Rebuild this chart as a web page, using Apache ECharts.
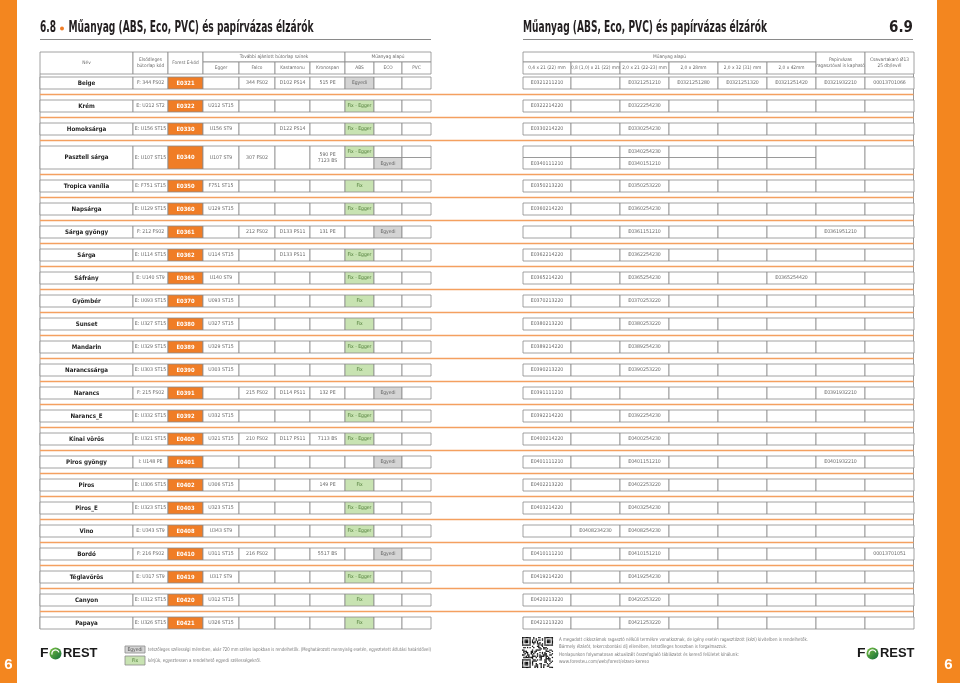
<!DOCTYPE html>
<html><head><meta charset="utf-8">
<script src="https://cdn.jsdelivr.net/npm/echarts@6/dist/echarts.min.js"></script>
<style>html,body{margin:0;padding:0;background:#fff}#c{width:960px;height:683px}</style>
</head><body><div id="c"></div>
<script>
// ---------------- DATA ----------------
const rowNames = ['Beige','Krém','Homoksárga','Pasztell sárga','Tropica vanília','Napsárga','Sárga gyöngy','Sárga','Sáfrány','Gyömbér','Sunset','Mandarin','Narancssárga','Narancs','Narancs_E','Kínai vörös','Piros gyöngy','Piros','Piros_E','Vino','Bordó','Téglavörös','Canyon','Papaya'];
const primaryCodes = ['F: 344 FS02','E: U212 ST2','E: U156 ST15','E: U107 ST15','E: F751 ST15','E: U129 ST15','F: 212 FS02','E: U114 ST15','E: U140 ST9','E: U093 ST15','E: U327 ST15','E: U329 ST15','E: U303 ST15','F: 215 FS02','E: U332 ST15','E: U321 ST15','I: U148 PE','E: U306 ST15','E: U323 ST15','E: U343 ST9','F: 216 FS02','E: U317 ST9','E: U312 ST15','E: U326 ST15'];
const forestCodes = ['E0321','E0322','E0330','E0340','E0350','E0360','E0361','E0362','E0365','E0370','E0380','E0389','E0390','E0391','E0392','E0400','E0401','E0402','E0403','E0408','E0410','E0419','E0420','E0421'];
const eggerColors = ['','U212 ST15','U156 ST9','U107 ST9','F751 ST15','U129 ST15','','U114 ST15','U140 ST9','U093 ST15','U327 ST15','U329 ST15','U303 ST15','','U332 ST15','U321 ST15','','U306 ST15','U323 ST15','U343 ST9','U311 ST15','U317 ST9','U312 ST15','U326 ST15'];
const falcoColors = ['344 FS02','','','307 FS02','','','212 FS02','','','','','','','215 FS02','','210 FS02','','','','','216 FS02','','',''];
const kastamonuColors = ['D102 PS14','','D122 PS14','','','','D133 PS11','D133 PS11','','','','','','D114 PS11','','D117 PS11','','','','','','','',''];
const kronospanColors = ['515 PE','','','590 PE\n7123 BS','','','131 PE','','','','','','','132 PE','','7113 BS','','149 PE','','','5517 BS','','',''];
const absAvailability = ['Egyedi','Fix - Egger','Fix - Egger',['Fix - Egger',''],'Fix','Fix - Egger','','Fix - Egger','Fix - Egger','Fix','Fix','Fix - Egger','Fix','','Fix - Egger','Fix - Egger','','Fix','Fix - Egger','Fix - Egger','','Fix - Egger','Fix','Fix'];
const ecoAvailability = ['','','',['','Egyedi'],'','','Egyedi','','','','','','','Egyedi','','','Egyedi','','','','Egyedi','','',''];
const pvcAvailability = ['','','',['',''],'','','','','','','','','','','','','','','','','','','',''];
const size04x21 = ['E0321211210','E0322214220','E0330214220',['','E0340111210'],'E0350213220','E0360214220','','E0362214220','E0365214220','E0370213220','E0380213220','E0389214220','E0390213220','E0391111210','E0392214220','E0400214220','E0401111210','E0402213220','E0403214220','','E0410111210','E0419214220','E0420213220','E0421213220'];
const size08x21 = ['','','',['',''],'','','','','','','','','','','','','','','','E0408234230','','','',''];
const size20x21 = ['E0321251210','E0322254230','E0330254230',['E0340254230','E0340151210'],'E0350253220','E0360254230','E0361151210','E0362254230','E0365254230','E0370253220','E0380253220','E0389254230','E0390253220','','E0392254230','E0400254230','E0401151210','E0402253220','E0403254230','E0408254230','E0410151210','E0419254230','E0420253220','E0421253220'];
const size20x28 = ['E0321251280','','',['',''],'','','','','','','','','','','','','','','','','','','',''];
const size20x32 = ['E0321251320','','',['',''],'','','','','','','','','','','','','','','','','','','',''];
const size20x42 = ['E0321251420','','',['',''],'','','','','E0365254420','','','','','','','','','','','','','','',''];
const paperBased = ['E0321932210','','','','','','E0361951210','','','','','','','E0391932210','','','E0401932210','','','','','','',''];
const screwCaps = ['00013701066','','','','','','','','','','','','','','','','','','','','00013701051','','',''];

const leftHeaders = ['Név','Elsődleges\nbútorlap kód','Forest E-kód'];
const boardGroupHeader = 'További ajánlott bútorlap színek';
const boardSubHeaders = ['Egger','Falco','Kastamonu','Kronospan'];
const plasticGroupHeader = 'Műanyag alapú';
const plasticSubHeaders = ['ABS','ECO','PVC'];
const sizeSubHeaders = ['0,4 x 21 (22) mm','0,8 (1,0) x 21 (22) mm','2,0 x 21 (22-23) mm','2,0 x 28mm','2,0 x 32 (31) mm','2,0 x 42mm'];
const rightHeaders = ['Papírvázas\nragasztóval is kapható','Csavartakaró Ø13\n25 db/levél'];

// ---------------- LAYOUT ----------------
const FONT = "'Liberation Sans Narrow','DejaVu Sans Condensed','Arial Narrow',sans-serif";
const ORANGE = '#f07d26', STRIP = '#f3861f', GREEN = '#c8e3b2', GREY = '#d4d4d4', BORDER = '#8c8c8c';
const leftEdges = [40,133,168,203,239,275,310,345,374,402,431];
const rightEdges = [523,571,620,669,718,767,816,865,914];
const PX = 1/23;
function rowTop(i){ return i + (i > 3 ? 11*PX : 0); }
function rowHeight(i){ return i === 3 ? 23*PX : 12*PX; }

const leftCols = [
  {arr: rowNames, kind:'name'}, {arr: primaryCodes, kind:'plain'}, {arr: forestCodes, kind:'forest'},
  {arr: eggerColors, kind:'plain'}, {arr: falcoColors, kind:'plain'}, {arr: kastamonuColors, kind:'plain'}, {arr: kronospanColors, kind:'plain'},
  {arr: absAvailability, kind:'type'}, {arr: ecoAvailability, kind:'type'}, {arr: pvcAvailability, kind:'type'}
];
const rightCols = [size04x21, size08x21, size20x21, size20x28, size20x32, size20x42, paperBased, screwCaps].map(a => ({arr:a, kind:'plain'}));

function mkRect(api, x0, x1, y0, y1, fill) {
  const a = api.coord([x0, y0]), b = api.coord([x1, y1]);
  return {type:'rect', shape:{x:a[0], y:a[1], width:b[0]-a[0], height:b[1]-a[1]}, style:{fill:fill, stroke:BORDER, lineWidth:0.8}};
}
function mkText(api, x0, x1, y0, y1, str, opt) {
  const a = api.coord([(x0+x1)/2, (y0+y1)/2]);
  return {type:'text', x:a[0], y:a[1], style:Object.assign({text:str, align:'center', verticalAlign:'middle', fill:'#6a6a6a', fontSize:5.2, fontFamily:FONT, lineHeight:6.5}, opt || {})};
}
function cellStyle(kind, v) {
  if (kind === 'name') return {fill:'#fff', txt:{fill:'#1e1e1e', fontWeight:'bold', fontSize:6.2}};
  if (kind === 'forest') return {fill:ORANGE, txt:{fill:'#fff', fontWeight:'bold', fontSize:5.8}};
  if (kind === 'type') {
    if (v === 'Egyedi') return {fill:GREY, txt:{fill:'#666', fontSize:5}};
    if (v) return {fill:GREEN, txt:{fill:'#4f7d38', fontSize:5}};
  }
  return {fill:'#fff', txt:{}};
}
function addCols(children, api, cols, edges, y0, y1) {
  cols.forEach((c, k) => {
    const x0 = edges[k], x1 = edges[k+1];
    const v = c.arr[children.idx];
    if (Array.isArray(v)) {
      const ym = (y0 + y1) / 2;
      [[v[0], y0, ym], [v[1], ym, y1]].forEach(([s, a, b]) => {
        const st = cellStyle(c.kind, s);
        children.push(mkRect(api, x0, x1, a, b, st.fill));
        if (s) children.push(mkText(api, x0, x1, a, b, s, st.txt));
      });
    } else {
      const st = cellStyle(c.kind, v);
      children.push(mkRect(api, x0, x1, y0, y1, st.fill));
      if (v) children.push(mkText(api, x0, x1, y0, y1, v, st.txt));
    }
  });
}
function renderRow(params, api) {
  const i = params.dataIndex;
  const y0 = rowTop(i), y1 = y0 + rowHeight(i);
  const children = []; children.idx = i;
  if (i > 0) {
    const a = api.coord([40, y0 - 5.5*PX]), b = api.coord([913.5, y0 - 5.5*PX]);
    children.push({type:'line', shape:{x1:a[0], y1:a[1], x2:b[0], y2:b[1]}, style:{stroke:'#f4a060', lineWidth:1.6}});
  }
  addCols(children, api, leftCols, leftEdges, y0, y1);
  addCols(children, api, rightCols, rightEdges, y0, y1);
  return {type:'group', children: children.slice()};
}
function renderHeader(params, api) {
  const h0 = (52-77)*PX, h1 = (62-77)*PX, h2 = (74-77)*PX;
  const ch = [];
  const hs = {fontSize:4.8, fill:'#6a6a6a'};
  leftHeaders.forEach((t, k) => { ch.push(mkRect(api, leftEdges[k], leftEdges[k+1], h0, h2, '#fff')); ch.push(mkText(api, leftEdges[k], leftEdges[k+1], h0, h2, t, hs)); });
  ch.push(mkRect(api, leftEdges[3], leftEdges[7], h0, h1, '#fff')); ch.push(mkText(api, leftEdges[3], leftEdges[7], h0, h1, boardGroupHeader, hs));
  boardSubHeaders.forEach((t, k) => { ch.push(mkRect(api, leftEdges[3+k], leftEdges[4+k], h1, h2, '#fff')); ch.push(mkText(api, leftEdges[3+k], leftEdges[4+k], h1, h2, t, hs)); });
  ch.push(mkRect(api, leftEdges[7], leftEdges[10], h0, h1, '#fff')); ch.push(mkText(api, leftEdges[7], leftEdges[10], h0, h1, plasticGroupHeader, hs));
  plasticSubHeaders.forEach((t, k) => { ch.push(mkRect(api, leftEdges[7+k], leftEdges[8+k], h1, h2, '#fff')); ch.push(mkText(api, leftEdges[7+k], leftEdges[8+k], h1, h2, t, hs)); });
  ch.push(mkRect(api, rightEdges[0], rightEdges[6], h0, h1, '#fff')); ch.push(mkText(api, rightEdges[0], rightEdges[6], h0, h1, plasticGroupHeader, hs));
  sizeSubHeaders.forEach((t, k) => { ch.push(mkRect(api, rightEdges[k], rightEdges[k+1], h1, h2, '#fff')); ch.push(mkText(api, rightEdges[k], rightEdges[k+1], h1, h2, t, hs)); });
  rightHeaders.forEach((t, k) => { ch.push(mkRect(api, rightEdges[6+k], rightEdges[7+k], h0, h2, '#fff')); ch.push(mkText(api, rightEdges[6+k], rightEdges[7+k], h0, h2, t, hs)); });
  const last = rowNames.length - 1, yb = rowTop(last) + rowHeight(last);
  [40, 913.5].forEach(x => { const a = api.coord([x, h2]), b = api.coord([x, yb]); ch.push({type:'line', shape:{x1:a[0], y1:a[1], x2:b[0], y2:b[1]}, style:{stroke:'#9a9a9a', lineWidth:1}}); });
  return {type:'group', children: ch};
}

// ---------------- DECORATION ----------------
const mctx = document.createElement('canvas').getContext('2d');
function fitScale(text, font, w) { mctx.font = font; const m = mctx.measureText(text).width; return m > 0 ? w / m : 1; }
function fitText(text, x, y, w, font, fill) {
  return {type:'text', x:x, y:y, scaleX: fitScale(text, font, w), style:{text:text, font:font, fill:fill, verticalAlign:'middle'}};
}
const TITLE = 'Műanyag (ABS, Eco, PVC) és papírvázas élzárók';
const TFONT = "bold 15px 'Liberation Sans Narrow','DejaVu Sans Condensed',sans-serif";
const SFONT = "5px 'Liberation Sans Narrow','DejaVu Sans Condensed',sans-serif";
const footerLeft = ['tetszőleges szélességi méretben, akár 720 mm széles lapokban is rendelhetők. (Meghatározott mennyiség esetén, egyeztetett átfutási határidővel)', 'kérjük, egyeztessen a rendelhető egyedi szélességekről.'];
const footerRight = ['A megadott cikkszámok ragasztó nélküli termékre vonatkoznak, de igény esetén ragasztózott (kézi) kivitelben is rendelhetők.', 'Bármely élzárót, tekercsbontási díj ellenében, tetszőleges hosszban is forgalmazzuk.', 'Honlapunkon folyamatosan aktualizált összefoglaló táblázatot és kereső felületet kínálunk:', 'www.foresteu.com/web/forest/elzaro-kereso'];

function logo(x, y) {
  const f = "bold 13px 'Liberation Sans','DejaVu Sans',sans-serif";
  return {type:'group', x:x, y:y, children:[
    fitText('F', 0, 0, 8.5, f, '#1a1a1a'),
    {type:'circle', shape:{cx:15.5, cy:0, r:6}, style:{fill:{type:'linear', x:0, y:0, x2:1, y2:1, colorStops:[{offset:0, color:'#7cc242'}, {offset:1, color:'#0f6b3a'}]}}},
    {type:'arc', shape:{cx:15.5, cy:0, r:3.6, startAngle:Math.PI*0.9, endAngle:Math.PI*1.9}, style:{stroke:'#fff', lineWidth:1.2, fill:null}},
    fitText('REST', 23, 0, 34.5, f, '#1a1a1a')
  ]};
}
function qr(x, y, size) {
  const n = 25, m = size / n, ch = [{type:'rect', shape:{x:x, y:y, width:size, height:size}, style:{fill:'#fff'}}];
  const seed = 'www.foresteu.com/web/forest/elzaro-kereso';
  const finder = (r, c) => { for (const [fr, fc] of [[0,0],[0,18],[18,0]]) { const dr = r-fr, dc = c-fc; if (dr>=0 && dr<7 && dc>=0 && dc<7) { const e = Math.max(Math.abs(dr-3), Math.abs(dc-3)); return e === 3 || e <= 1 ? 1 : 0; } if (dr>=-1 && dr<=7 && dc>=-1 && dc<=7) return 0; } return -1; };
  for (let r = 0; r < n; r++) for (let c = 0; c < n; c++) {
    let v = finder(r, c);
    if (v < 0) v = ((seed.charCodeAt((r*n+c) % seed.length) * (r+3) + c*7 + (r^c)) % 5) < 2 ? 1 : 0;
    if (v) ch.push({type:'rect', shape:{x:x+c*m, y:y+r*m, width:m+0.05, height:m+0.05}, style:{fill:'#111'}});
  }
  return {type:'group', children:ch};
}

const graphic = [
  {type:'rect', shape:{x:0, y:0, width:17, height:683}, style:{fill:STRIP}},
  {type:'rect', shape:{x:937, y:0, width:23, height:683}, style:{fill:STRIP}},
  {type:'text', x:8.5, y:665, style:{text:'6', font:"bold 15px 'Liberation Sans Narrow',sans-serif", fill:'#fff', align:'center', verticalAlign:'middle'}},
  {type:'text', x:948.5, y:665, style:{text:'6', font:"bold 15px 'Liberation Sans Narrow',sans-serif", fill:'#fff', align:'center', verticalAlign:'middle'}},
  fitText('6.8', 40, 28.5, 16, TFONT, '#231f20'),
  {type:'circle', shape:{cx:62, cy:28.5, r:2}, style:{fill:ORANGE}},
  fitText(TITLE, 68.5, 28.5, 245, TFONT, '#231f20'),
  fitText(TITLE, 523, 28.5, 244, TFONT, '#231f20'),
  {type:'text', x:913, y:28.5, style:{text:'6.9', font:TFONT, fill:'#231f20', align:'right', verticalAlign:'middle'}},
  {type:'line', shape:{x1:40, y1:39.5, x2:431, y2:39.5}, style:{stroke:'#8a8a8a', lineWidth:1}},
  {type:'line', shape:{x1:523, y1:39.5, x2:913, y2:39.5}, style:{stroke:'#8a8a8a', lineWidth:1}},
  logo(40, 653.5),
  logo(857, 653.5),
  {type:'rect', shape:{x:125, y:646, width:20, height:7}, style:{fill:GREY, stroke:BORDER, lineWidth:0.8}},
  {type:'text', x:135, y:649.5, style:{text:'Egyedi', font:SFONT, fill:'#555', align:'center', verticalAlign:'middle'}},
  {type:'rect', shape:{x:125, y:656, width:20, height:9}, style:{fill:GREEN, stroke:BORDER, lineWidth:0.8}},
  {type:'text', x:135, y:660.5, style:{text:'Fix', font:SFONT, fill:'#4f7d38', align:'center', verticalAlign:'middle'}},
  fitText(footerLeft[0], 148, 649.5, 283, SFONT, '#777'),
  fitText(footerLeft[1], 148, 660.5, 113, SFONT, '#777'),
  qr(522, 637, 31),
  fitText(footerRight[0], 559, 640, 249, SFONT, '#777'),
  fitText(footerRight[1], 559, 646.5, 168, SFONT, '#777'),
  fitText(footerRight[2], 559, 655, 180, SFONT, '#777'),
  fitText(footerRight[3], 559, 661.5, 90, SFONT, '#777')
];

const chart = echarts.init(document.getElementById('c'), null, {renderer:'canvas'});
chart.setOption({
  animation: false,
  backgroundColor: '#fff',
  grid: {left:0, right:0, top:31, bottom:31},
  xAxis: {type:'value', min:0, max:960, show:false},
  yAxis: {type:'value', min:-2, max:25, inverse:true, show:false},
  graphic: graphic,
  series: [
    {type:'custom', coordinateSystem:'cartesian2d', clip:false, data:[[0,-1]], renderItem: renderHeader, silent:true},
    {type:'custom', coordinateSystem:'cartesian2d', clip:false, data: rowNames.map((n, i) => [0, rowTop(i)]), renderItem: renderRow, silent:true}
  ]
});
</script></body></html>
